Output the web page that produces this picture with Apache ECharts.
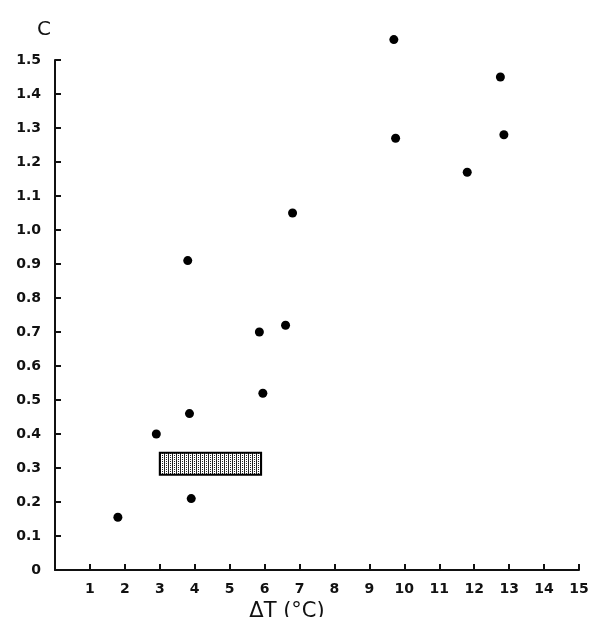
<!DOCTYPE html>
<html>
<head>
<meta charset="utf-8">
<script src="https://cdn.jsdelivr.net/npm/echarts@6/dist/echarts.min.js"></script>
<style>html,body{margin:0;padding:0;background:#fff}#c{width:600px;height:617px}</style>
</head>
<body>
<div id="c"></div>
<script>
// Data
const deltaT = [1.8, 2.9, 3.9, 3.85, 3.8, 5.95, 5.85, 6.6, 6.8, 9.7, 9.75, 11.8, 12.75, 12.85];
const cValues = [0.155, 0.40, 0.21, 0.46, 0.91, 0.52, 0.70, 0.72, 1.05, 1.56, 1.27, 1.17, 1.45, 1.28];
const boxX = [3.0, 5.9];
const boxY = [0.28, 0.345];
const xTicks = [1,2,3,4,5,6,7,8,9,10,11,12,13,14,15];
const yTicks = [0,0.1,0.2,0.3,0.4,0.5,0.6,0.7,0.8,0.9,1.0,1.1,1.2,1.3,1.4,1.5];

const points = deltaT.map((x, i) => [x, cValues[i]]);
const font = 'DejaVu Sans';

// stipple pattern for the shaded box
const pat = document.createElement('canvas');
pat.width = 4; pat.height = 4;
const pctx = pat.getContext('2d');
pctx.fillStyle = '#fff'; pctx.fillRect(0, 0, 4, 4);
pctx.fillStyle = '#222';
pctx.fillRect(0, 0, 1, 4);
pctx.fillRect(2, 1, 1, 1);
pctx.fillRect(2, 3, 1, 1);

const chart = echarts.init(document.getElementById('c'));
chart.setOption({
  animation: false,
  backgroundColor: '#fff',
  grid: { left: 55, right: 21, top: 60, bottom: 47, containLabel: false, outerBoundsMode: 'none' },
  xAxis: {
    type: 'value', min: 0, max: 15, interval: 1,
    axisLine: { show: true, lineStyle: { color: '#111', width: 2 } },
    axisTick: { show: true, inside: true, length: 6, lineStyle: { color: '#111', width: 2 } },
    splitLine: { show: false },
    axisLabel: {
      margin: 12, color: '#111', fontFamily: font, fontSize: 14, fontWeight: 'bold',
      formatter: v => (xTicks.indexOf(v) >= 0 ? String(v) : '')
    },
    name: 'ΔT (°C)', nameLocation: 'middle', nameGap: 22,
    nameTextStyle: { color: '#111', fontFamily: font, fontSize: 21, padding: [0, 60, 0, 0] }
  },
  yAxis: {
    type: 'value', min: 0, max: 1.5, interval: 0.1,
    axisLine: { show: true, lineStyle: { color: '#111', width: 2 } },
    axisTick: { show: true, inside: true, length: 6, lineStyle: { color: '#111', width: 2 } },
    splitLine: { show: false },
    axisLabel: {
      margin: 14, color: '#111', fontFamily: font, fontSize: 14, fontWeight: 'bold',
      formatter: v => {
        const t = yTicks.find(k => Math.abs(k - v) < 1e-6);
        if (t === undefined) return '';
        return t === 0 ? '0' : t.toFixed(1);
      }
    },
    name: 'C', nameLocation: 'end', nameGap: 20,
    nameTextStyle: { color: '#111', fontFamily: font, fontSize: 20, align: 'right', padding: [0, 4, 0, 0] }
  },
  series: [
    {
      type: 'custom',
      silent: true,
      clip: false,
      data: [[boxX[0], boxY[1], boxX[1], boxY[0]]],
      renderItem: (params, api) => {
        const p1 = api.coord([api.value(0), api.value(1)]);
        const p2 = api.coord([api.value(2), api.value(3)]);
        return {
          type: 'rect',
          shape: { x: p1[0], y: p1[1], width: p2[0] - p1[0], height: p2[1] - p1[1] },
          style: { fill: { image: pat, repeat: 'repeat' }, stroke: '#000', lineWidth: 2 }
        };
      }
    },
    {
      type: 'scatter',
      data: points,
      clip: false,
      symbol: 'circle',
      symbolSize: 9,
      itemStyle: { color: '#000', opacity: 1 }
    }
  ]
});
</script>
</body>
</html>
